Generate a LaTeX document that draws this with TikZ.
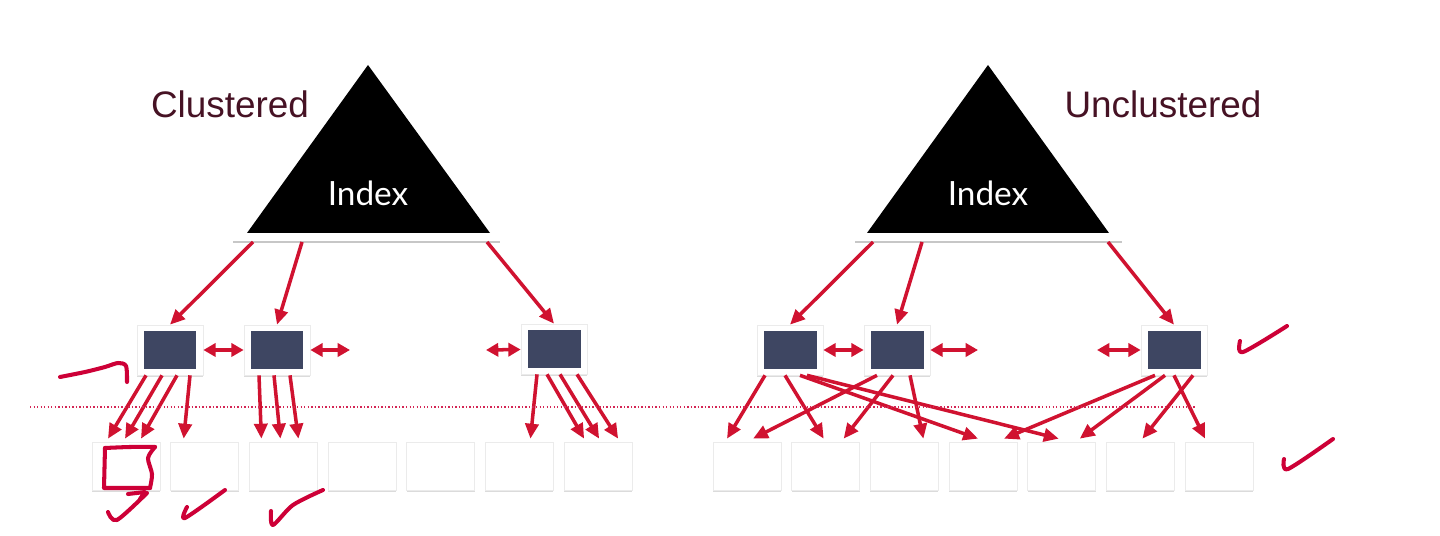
\documentclass[tikz,border=0pt]{standalone}
\usepackage{fontspec}
\setmainfont{Liberation Sans}
\newfontfamily\idxfont{Lato}
\usepackage{xcolor}
\usepackage{tikz}
\usetikzlibrary{arrows.meta,positioning,calc,shadows}

\definecolor{linkred}{RGB}{208,18,48}
\definecolor{inkred}{RGB}{205,0,55}
\definecolor{pageblue}{RGB}{62,70,98}
\definecolor{titlered}{RGB}{70,18,36}

\begin{document}
\begin{tikzpicture}[x=0.02cm, y=-0.02cm,
  dpage/.style={draw=black!8, fill=white, inner sep=0pt,
                minimum width=1.36cm, minimum height=0.96cm,
                drop shadow={opacity=0.28, shadow xshift=0pt, shadow yshift=-1.3pt}},
  ipage/.style={dpage, minimum width=1.32cm, minimum height=1.0cm,
                path picture={\fill[pageblue]
                  ([shift={(3.7pt,-3.4pt)}]path picture bounding box.north west) rectangle
                  ([shift={(-3.7pt,3.4pt)}]path picture bounding box.south east);}},
  ttl/.style={font=\fontsize{21}{24}\selectfont, text=titlered},
  idx/.style={font=\idxfont\fontsize{19}{22}\selectfont, text=white},
  arr/.style={-{Triangle[length=8.5pt,width=7.5pt]}, line width=2pt, draw=linkred},
  darr/.style={{Triangle[length=7pt,width=7.5pt]}-{Triangle[length=7pt,width=7.5pt]},
               line width=2pt, draw=linkred},
  ink/.style={draw=inkred, line width=2.3pt, line cap=round, line join=round},
]
  \path[use as bounding box, fill=white] (0,0) rectangle (1440,536);

  %% clustered side
  \node[ttl] (tL) at (230,104) {Clustered};
  \fill (247,233) -- (368,65) -- (490,233) -- cycle;
  \draw[black!22, line width=1.2pt] (233,242) -- (500,242);
  \node[idx] (xL) at (368,193) {Index};
  \coordinate (bL) at (368,242);
  \node[ipage] (ip1) at (170,350) {};
  \node[ipage] (ip2) at (277,350) {};
  \node[ipage] (ip3) at (554,349) {};
  \node[dpage] (dl1) at (126,466) {};
  \node[dpage, right=0.2cm of dl1] (dl2) {};
  \node[dpage, right=0.2cm of dl2] (dl3) {};
  \node[dpage, right=0.2cm of dl3] (dl4) {};
  \node[dpage, right=0.2cm of dl4] (dl5) {};
  \node[dpage, right=0.2cm of dl5] (dl6) {};
  \node[dpage, right=0.2cm of dl6] (dl7) {};
  \draw[arr] ($(bL)+(-115,0)$) -- (ip1.north);
  \draw[arr] ($(bL)+(-66,0)$)  -- (ip2.north);
  \draw[arr] ($(bL)+(119,0)$)  -- (ip3.north);
  \coordinate (gl1) at (350,350);
  \coordinate (gl2) at (486,350);
  \draw[darr] (ip1) -- (ip2);
  \draw[darr] (ip2) -- (gl1);
  \draw[darr] (gl2) -- (ip3);
  \draw[arr] ($(ip1.south)+(-24,0)$) -- ($(dl1.north)+(-18,-3)$);
  \draw[arr] ($(ip1.south)+(-8,0)$)  -- ($(dl1.north)+(-1,-3)$);
  \draw[arr] ($(ip1.south)+(7,0)$)   -- ($(dl1.north)+(15,-3)$);
  \draw[arr] ($(ip1.south)+(20,0)$)  -- ($(dl2.north)+(-21,-3)$);
  \draw[arr] ($(ip2.south)+(-18,0)$) -- ($(dl3.north)+(-22,-3)$);
  \draw[arr] ($(ip2.south)+(-3,0)$)  -- ($(dl3.north)+(-3,-3)$);
  \draw[arr] ($(ip2.south)+(13,0)$)  -- ($(dl3.north)+(15,-3)$);
  \draw[arr] ($(ip3.south)+(-17,0)$) -- ($(dl6.north)+(11,-3)$);
  \draw[arr] ($(ip3.south)+(-7,0)$)  -- ($(dl7.north)+(-14,-3)$);
  \draw[arr] ($(ip3.south)+(6,0)$)   -- ($(dl7.north)+(1,-3)$);
  \draw[arr] ($(ip3.south)+(23,0)$)  -- ($(dl7.north)+(20,-3)$);

  %% unclustered side
  \node[ttl] (tR) at (1163,104) {Unclustered};
  \fill (867,233) -- (988,65) -- (1109,233) -- cycle;
  \draw[black!22, line width=1.2pt] (855,242) -- (1122,242);
  \node[idx] (xR) at (988,193) {Index};
  \coordinate (bR) at (988,242);
  \node[ipage] (iq1) at (790,350) {};
  \node[ipage] (iq2) at (897,350) {};
  \node[ipage] (iq3) at (1174,350) {};
  \node[dpage] (dr1) at (747,466) {};
  \node[dpage, right=0.2cm of dr1] (dr2) {};
  \node[dpage, right=0.2cm of dr2] (dr3) {};
  \node[dpage, right=0.2cm of dr3] (dr4) {};
  \node[dpage, right=0.2cm of dr4] (dr5) {};
  \node[dpage, right=0.2cm of dr5] (dr6) {};
  \node[dpage, right=0.2cm of dr6] (dr7) {};
  \draw[arr] ($(bR)+(-115,0)$) -- (iq1.north);
  \draw[arr] ($(bR)+(-66,0)$)  -- (iq2.north);
  \draw[arr] ($(bR)+(120,0)$)  -- (iq3.north);
  \coordinate (gr1) at (978,350);
  \coordinate (gr2) at (1097,350);
  \draw[darr] (iq1) -- (iq2);
  \draw[darr] (iq2) -- (gr1);
  \draw[darr] (gr2) -- (iq3);
  \draw[arr] ($(iq1.south)+(-25,0)$) -- ($(dr1.north)+(-20,-3)$);
  \draw[arr] ($(iq1.south)+(-5,0)$)  -- ($(dr2.north)+(-2,-3)$);
  \draw[arr] ($(iq1.south)+(10,0)$)  -- ($(dr4.north)+(-5,-3)$);
  \draw[arr] ($(iq1.south)+(17,0)$)  -- ($(dr5.north)+(-3,-3)$);
  \draw[arr] ($(iq2.south)+(-20,0)$) -- ($(dr1.north)+(6,-3)$);
  \draw[arr] ($(iq2.south)+(-4,0)$)  -- ($(dr2.north)+(18,-3)$);
  \draw[arr] ($(iq2.south)+(13,0)$)  -- ($(dr3.north)+(19,-3)$);
  \draw[arr] ($(iq3.south)+(-19,0)$) -- ($(dr4.north)+(21,-3)$);
  \draw[arr] ($(iq3.south)+(-9,0)$)  -- ($(dr5.north)+(18,-3)$);
  \draw[arr] ($(iq3.south)+(0,0)$)   -- ($(dr7.north)+(-14,-3)$);
  \draw[arr] ($(iq3.south)+(19,0)$)  -- ($(dr6.north)+(2,-3)$);

  %% pen marks
  \draw[inkred!85, line width=0.7pt, dash pattern=on 0.8pt off 1.2pt] (30,407) -- (1195,407);
  \draw[ink] plot[smooth] coordinates {(60,377) (85,372) (105,367) (118,363) (126,366) (127,382)};
  \draw[ink] plot[smooth] coordinates {(105,448) (130,447) (155,447)};
  \draw[ink] plot[smooth] coordinates {(155,447) (148,458) (152,474) (150,488)};
  \draw[ink] (150,488) -- (104,488) -- (105,448);
  \draw[ink] (128,494) -- (145,492) -- (140,499);
  \draw[ink] plot[smooth] coordinates {(108,512) (117,520) (147,493)};
  \draw[ink] plot[smooth] coordinates {(187,507) (185,518) (225,490)};
  \draw[ink] plot[smooth] coordinates {(271,511) (273,525) (293,505) (323,490)};
  \draw[ink] plot[smooth] coordinates {(1240,341) (1243,352) (1287,326)};
  \draw[ink] plot[smooth] coordinates {(1284,459) (1288,469) (1333,439)};
\end{tikzpicture}
\end{document}
